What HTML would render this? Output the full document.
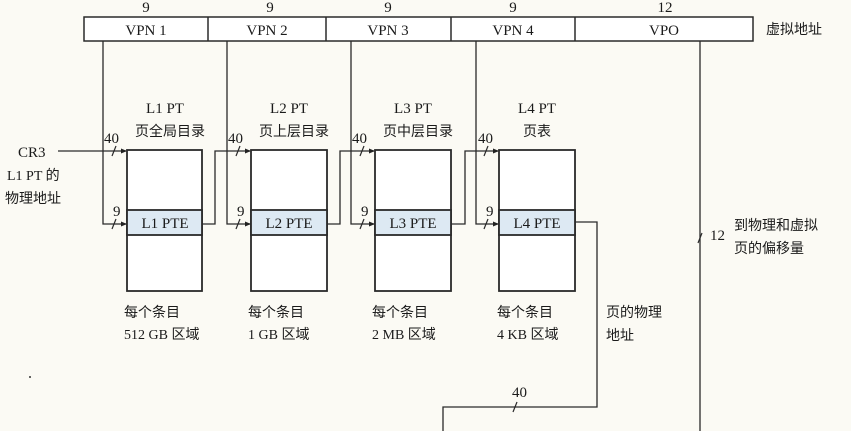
<!DOCTYPE html>
<html><head><meta charset="utf-8"><style>
html,body{margin:0;padding:0;background:#fbfaf4;}
svg{display:block;}
text{font-family:"Liberation Serif","Noto Serif CJK SC",serif;fill:#1a1a1a;font-size:15px;}
.c{font-family:"Liberation Serif","Noto Sans CJK SC",sans-serif;font-size:14px;}
</style></head><body>
<svg width="851" height="431" viewBox="0 0 851 431" xmlns="http://www.w3.org/2000/svg">
<defs><marker id="a" markerWidth="6" markerHeight="6" refX="5" refY="3" orient="auto" markerUnits="userSpaceOnUse"><path d="M0,0.5 L6,3 L0,5.5z" fill="#222"/></marker></defs>
<g stroke="#2a2a2a" stroke-width="1.5" fill="none">
<rect x="84" y="17" width="669" height="24" fill="#fff"/>
<line x1="208" y1="17" x2="208" y2="41"/><line x1="326" y1="17" x2="326" y2="41"/>
<line x1="451" y1="17" x2="451" y2="41"/><line x1="575" y1="17" x2="575" y2="41"/>
</g>
<g text-anchor="middle">
<text x="146" y="12">9</text><text x="270" y="12">9</text><text x="388" y="12">9</text><text x="513" y="12">9</text><text x="665" y="12">12</text>
<text x="146" y="35">VPN 1</text><text x="267" y="35">VPN 2</text><text x="388" y="35">VPN 3</text><text x="513" y="35">VPN 4</text><text x="664" y="35">VPO</text>
</g>
<text class="c" x="766" y="34">虚拟地址</text>
<g stroke="#2a2a2a" stroke-width="1.3" fill="none">
<line x1="58" y1="151" x2="126" y2="151" marker-end="url(#a)"/>
<polyline points="103,41 103,224 126,224" marker-end="url(#a)"/>
<polyline points="227,41 227,224 250,224" marker-end="url(#a)"/>
<polyline points="351,41 351,224 374,224" marker-end="url(#a)"/>
<polyline points="476,41 476,224 498,224" marker-end="url(#a)"/>
<polyline points="202,224 215,224 215,151 250,151" marker-end="url(#a)"/>
<polyline points="327,224 340,224 340,151 374,151" marker-end="url(#a)"/>
<polyline points="451,224 465,224 465,151 498,151" marker-end="url(#a)"/>
<polyline points="575,222 597,222 597,407 443,407 443,431"/>
<line x1="700" y1="41" x2="700" y2="431"/>
<g stroke-width="1.2">
<line x1="112" y1="156" x2="116" y2="146"/><line x1="236" y1="156" x2="240" y2="146"/><line x1="360" y1="156" x2="364" y2="146"/><line x1="484" y1="156" x2="488" y2="146"/>
<line x1="112" y1="229" x2="116" y2="219"/><line x1="236" y1="229" x2="240" y2="219"/><line x1="360" y1="229" x2="364" y2="219"/><line x1="484" y1="229" x2="488" y2="219"/>
<line x1="698" y1="243" x2="702" y2="233"/><line x1="513" y1="412" x2="517" y2="402"/>
</g>
</g>
<g stroke="#2a2a2a" stroke-width="1.8">
<rect x="127" y="150" width="75" height="141" fill="#fff"/><rect x="127" y="210" width="75" height="25" fill="#dde9f3"/>
<rect x="251" y="150" width="76" height="141" fill="#fff"/><rect x="251" y="210" width="76" height="25" fill="#dde9f3"/>
<rect x="375" y="150" width="76" height="141" fill="#fff"/><rect x="375" y="210" width="76" height="25" fill="#dde9f3"/>
<rect x="499" y="150" width="76" height="141" fill="#fff"/><rect x="499" y="210" width="76" height="25" fill="#dde9f3"/>
</g>
<g text-anchor="middle">
<text x="165" y="228">L1 PTE</text><text x="289" y="228">L2 PTE</text><text x="413" y="228">L3 PTE</text><text x="537" y="228">L4 PTE</text>
<text x="165" y="113">L1 PT</text><text x="289" y="113">L2 PT</text><text x="413" y="113">L3 PT</text><text x="537" y="113">L4 PT</text>
<text class="c" x="170" y="136">页全局目录</text><text class="c" x="294" y="136">页上层目录</text><text class="c" x="418" y="136">页中层目录</text><text class="c" x="537" y="136">页表</text>
</g>
<text x="104" y="143">40</text><text x="228" y="143">40</text><text x="352" y="143">40</text><text x="478" y="143">40</text>
<text x="113" y="216">9</text><text x="237" y="216">9</text><text x="361" y="216">9</text><text x="486" y="216">9</text>
<text x="710" y="240">12</text><text x="512" y="397">40</text>
<text x="18" y="157">CR3</text>
<text class="c" x="7" y="180">L1 PT 的</text>
<text class="c" x="5" y="203">物理地址</text>
<text class="c" x="124" y="317">每个条目</text><text class="c" x="124" y="339">512 GB 区域</text>
<text class="c" x="248" y="317">每个条目</text><text class="c" x="248" y="339">1 GB 区域</text>
<text class="c" x="372" y="317">每个条目</text><text class="c" x="372" y="339">2 MB 区域</text>
<text class="c" x="497" y="317">每个条目</text><text class="c" x="497" y="339">4 KB 区域</text>
<text class="c" x="606" y="317">页的物理</text><text class="c" x="606" y="340">地址</text>
<text class="c" x="734" y="230">到物理和虚拟</text><text class="c" x="734" y="253">页的偏移量</text>
<circle cx="30" cy="377" r="1" fill="#333"/>
</svg>
</body></html>
